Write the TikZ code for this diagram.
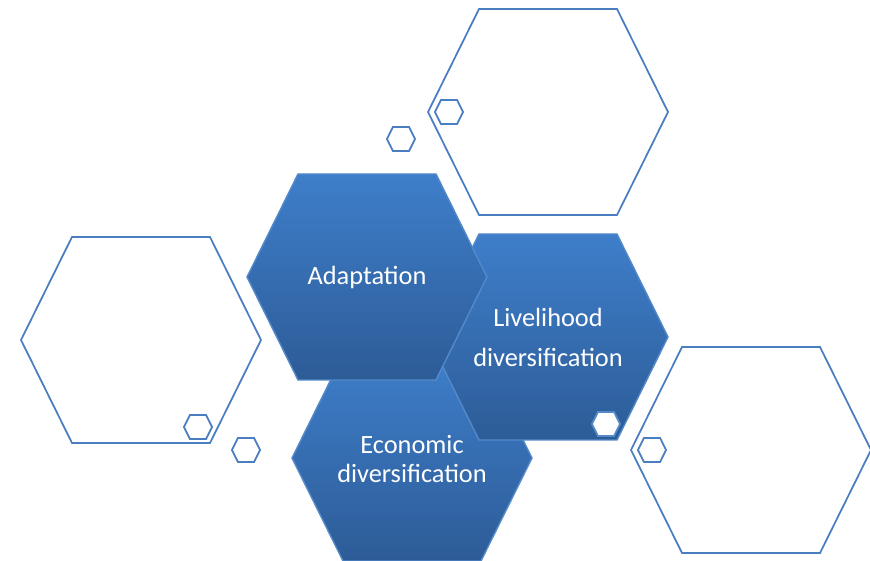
\documentclass[tikz,border=0pt]{standalone}
\usepackage{xcolor}
\usepackage{fontspec}
\setmainfont{Carlito}
\usepackage{tikz}

\definecolor{hexline}{RGB}{74,126,193}
\definecolor{hextop}{RGB}{62,126,202}
\definecolor{hexbottom}{RGB}{45,92,151}
\definecolor{hexedge}{RGB}{84,138,202}

\tikzset{
    pics/hexa/.style={code={
        \path[pic actions] (-1.2,0) -- (-0.69,1.03) -- (0.69,1.03) -- (1.2,0)
            -- (0.69,-1.03) -- (-0.69,-1.03) -- cycle;}},
    hexfill/.style={top color=hextop, bottom color=hexbottom, draw=hexedge, line width=0.4pt},
    hexopen/.style={draw=hexline, line width=0.5pt},
    minihex/.style={scale=0.117},
    hextext/.style={text=white, align=center, font=\fontsize{7.5}{9}\selectfont},
}

\begin{document}
\begin{tikzpicture}
    \useasboundingbox (0,0) rectangle (8.70,-5.61);

    \pic[hexopen] at (5.48,-1.12) {hexa};
    \pic[hexopen] at (1.41,-3.40) {hexa};
    \pic[hexopen] at (7.51,-4.50) {hexa};
    \pic[hexopen, minihex] at (4.01,-1.39) {hexa};
    \pic[hexopen, minihex] at (4.49,-1.12) {hexa};
    \pic[hexopen, minihex] at (1.98,-4.27) {hexa};
    \pic[hexopen, minihex] at (2.46,-4.50) {hexa};
    \pic[hexopen, minihex] at (6.52,-4.50) {hexa};

    \pic[hexfill] at (4.12,-4.58) {hexa};
    \node[hextext, font=\fontsize{7.5}{8}\selectfont] (e) at (4.12,-4.59) {Economic\\diversification};
    \pic[hexfill] at (5.48,-3.37) {hexa};
    \pic[hexopen, minihex, fill=white, draw=hexedge] at (6.06,-4.24) {hexa};
    \node[hextext, font=\fontsize{7.5}{11.4}\selectfont] (l) at (5.48,-3.37) {Livelihood\\diversification};
    \pic[hexfill] at (3.67,-2.77) {hexa};
    \node[hextext] (a) at (3.67,-2.77) {Adaptation};
\end{tikzpicture}
\end{document}
